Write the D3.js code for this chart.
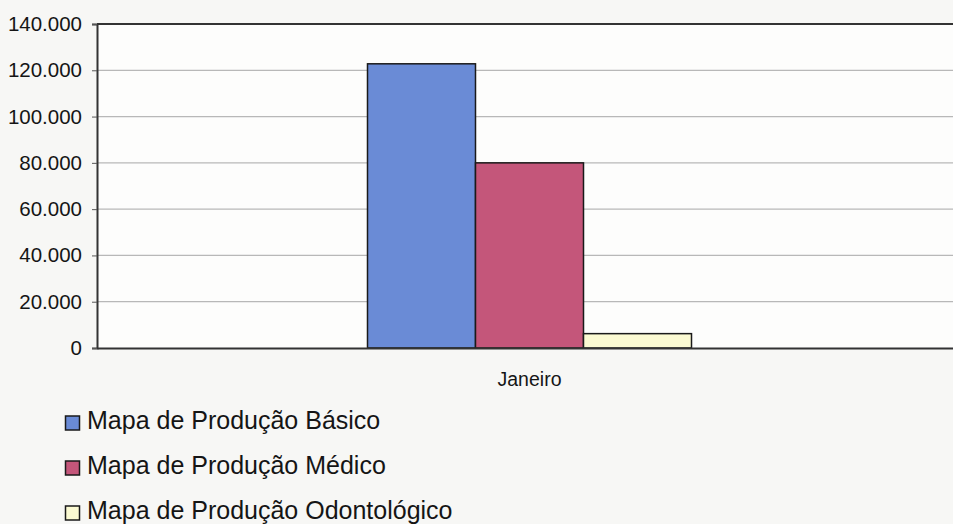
<!DOCTYPE html>
<html>
<head>
<meta charset="utf-8">
<script src="https://cdn.jsdelivr.net/npm/d3@7"></script>
<style>
  html, body { margin: 0; padding: 0; background: #f7f7f5; }
  svg { display: block; }
  text { font-family: Arial, "Liberation Sans", sans-serif; fill: #151515; }
</style>
</head>
<body>
<svg id="chart" width="953" height="524"></svg>
<script>
const categories = ["Janeiro"];
const seriesNames = ["Mapa de Produção Básico", "Mapa de Produção Médico", "Mapa de Produção Odontológico"];
const seriesValues = [[122800], [80000], [6200]];
const seriesColors = ["#6a8bd6", "#c4567a", "#fbfad2"];
const yTicks = [0, 20000, 40000, 60000, 80000, 100000, 120000, 140000];

const svg = d3.select("#chart");
const m = { left: 97, top: 24, right: 962, bottom: 348 };

const x = d3.scaleBand().domain(categories).range([m.left, m.right]).paddingInner(0.455).paddingOuter(0.455);
const xs = d3.scaleBand().domain(d3.range(seriesNames.length)).range([0, x.bandwidth()]);
const y = d3.scaleLinear().domain([0, 140000]).range([m.bottom, m.top]);

const fmt = v => v === 0 ? "0" : d3.format(",")(v).replace(/,/g, ".");

// plot background
svg.append("rect").attr("x", m.left).attr("y", m.top)
  .attr("width", m.right - m.left).attr("height", m.bottom - m.top).attr("fill", "#fdfdfc");

// gridlines
svg.append("g").selectAll("line").data(yTicks.filter(t => t > 0 && t < 140000)).join("line")
  .attr("x1", m.left).attr("x2", m.right)
  .attr("y1", d => y(d)).attr("y2", d => y(d))
  .attr("stroke", "#b8b8b8").attr("stroke-width", 1.2);

// top border
svg.append("line").attr("x1", m.left).attr("x2", m.right).attr("y1", m.top).attr("y2", m.top)
  .attr("stroke", "#333").attr("stroke-width", 2);

// bars
seriesNames.forEach((name, si) => {
  svg.append("g").selectAll("rect").data(categories).join("rect")
    .attr("x", (c) => x(c) + xs(si))
    .attr("y", (c, ci) => y(seriesValues[si][ci]))
    .attr("width", xs.bandwidth())
    .attr("height", (c, ci) => y(0) - y(seriesValues[si][ci]))
    .attr("fill", seriesColors[si])
    .attr("stroke", "#1a1a1a").attr("stroke-width", 1.5);
});

// y axis
const yAxis = svg.append("g").attr("transform", `translate(${m.left},0)`)
  .call(d3.axisLeft(y).tickValues(yTicks).tickFormat(fmt).tickSize(5).tickPadding(10));
yAxis.select(".domain").attr("stroke", "#333").attr("stroke-width", 2);
yAxis.selectAll(".tick line").attr("stroke", "#555");
yAxis.selectAll("text").attr("font-size", 20.5).attr("fill", "#151515")
  .attr("font-family", "Arial, 'Liberation Sans', sans-serif");

// x axis
const xAxis = svg.append("g").attr("transform", `translate(0,${m.bottom})`)
  .call(d3.axisBottom(x).tickSize(0).tickPadding(24));
xAxis.select(".domain").attr("stroke", "#333").attr("stroke-width", 2);
xAxis.selectAll("text").attr("font-size", 19.5).attr("fill", "#151515")
  .attr("font-family", "Arial, 'Liberation Sans', sans-serif");

// legend
const lg = svg.append("g");
seriesNames.forEach((name, i) => {
  const cy = 423 + i * 45;
  lg.append("rect").attr("x", 65.5).attr("y", cy - 7).attr("width", 14).attr("height", 14)
    .attr("fill", seriesColors[i]).attr("stroke", "#1a1a1a").attr("stroke-width", 1.5);
  lg.append("text").attr("x", 87).attr("y", cy + 6).attr("font-size", 25).text(name);
});
</script>
</body>
</html>
